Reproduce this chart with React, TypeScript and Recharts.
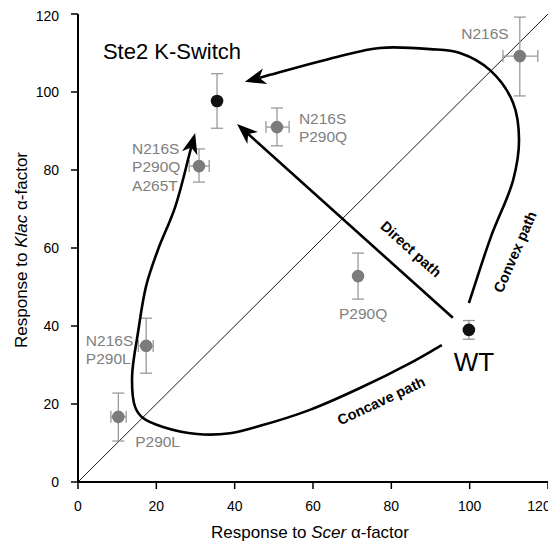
import React from 'react';
import { ScatterChart, Scatter, XAxis, YAxis, ErrorBar, ReferenceLine, Label } from 'recharts';

const FONT = '"Liberation Sans", Arial, Helvetica, sans-serif';

// ---------- data ----------
const axisTicks = [0, 20, 40, 60, 80, 100, 120];

const blackPoints = [
  { name: 'Ste2 K-Switch', x: 35.5, y: 97.7, ey: [7.0, 7.0] },
  { name: 'WT', x: 99.8, y: 39.0, ey: [2.4, 2.4] },
];

const grayPointsXY = [
  { name: 'N216S P290Q A265T', x: 30.9, y: 81.0, ex: [2.5, 2.6], ey: [4.1, 4.4] },
  { name: 'N216S P290Q', x: 50.8, y: 91.0, ex: [2.8, 3.1], ey: [4.8, 4.9] },
  { name: 'N216S', x: 112.8, y: 109.2, ex: [4.3, 4.6], ey: [10.2, 10.0] },
  { name: 'N216S P290L', x: 17.4, y: 34.9, ex: [2.0, 1.8], ey: [7.0, 7.1] },
  { name: 'P290L', x: 10.3, y: 16.7, ex: [1.9, 2.0], ey: [6.2, 6.1] },
];

const grayPointsY = [{ name: 'P290Q', x: 71.5, y: 52.8, ey: [5.9, 5.9] }];

const convexPath = [
  { x: 99.8, y: 45.9 },
  { x: 105.4, y: 62.8 },
  { x: 111.1, y: 77.4 },
  { x: 112.6, y: 87.7 },
  { x: 111.1, y: 97.2 },
  { x: 105.2, y: 105.6 },
  { x: 97.5, y: 110.0 },
  { x: 89.9, y: 111.0 },
  { x: 77.1, y: 111.3 },
  { x: 66.1, y: 109.0 },
  { x: 49.0, y: 104.4 },
  { x: 42.6, y: 102.6 },
];

const concavePath = [
  { x: 92.9, y: 35.1 },
  { x: 84.8, y: 30.5 },
  { x: 72.0, y: 24.1 },
  { x: 59.2, y: 18.5 },
  { x: 46.5, y: 14.4 },
  { x: 38.8, y: 12.5 },
  { x: 30.4, y: 12.3 },
  { x: 21.7, y: 14.1 },
  { x: 16.6, y: 16.4 },
  { x: 14.6, y: 19.2 },
  { x: 13.8, y: 26.9 },
  { x: 15.3, y: 38.2 },
  { x: 17.4, y: 50.3 },
  { x: 20.4, y: 59.5 },
  { x: 24.8, y: 70.5 },
  { x: 29.9, y: 89.5 },
];

const directPath = [
  { x: 95.7, y: 42.1 },
  { x: 40.6, y: 91.8 },
];

const pointLabels = [
  { lines: ['N216S'], x: 103.9, y: 115.1, align: 'middle' },
  { lines: ['N216S', 'P290Q'], x: 56.4, y: 93.3, align: 'start' },
  { lines: ['N216S', 'P290Q', 'A265T'], x: 13.8, y: 85.6, align: 'start' },
  { lines: ['N216S', 'P290L'], x: 2.0, y: 36.4, align: 'start' },
  { lines: ['P290L'], x: 14.6, y: 10.3, align: 'start' },
  { lines: ['P290Q'], x: 72.8, y: 43.1, align: 'middle' },
];

const titleLabels = [{ text: 'Ste2 K-Switch', x: 24.0, y: 110.5 }];
const wtLabels = [{ text: 'WT', x: 101.1, y: 30.8 }];

const pathLabels = [
  { text: 'Direct path', x: 85.0, y: 59.7, angle: 42 },
  { text: 'Convex path', x: 111.6, y: 59.0, angle: -66.5 },
  { text: 'Concave path', x: 77.4, y: 20.8, angle: -25 },
];

// ---------- styles ----------
const BLACK = '#111111';
const GRAY_PT = '#7b7b7b';
const GRAY_TXT = '#808080';
const GRAY_ERR = '#9a9a9a';

// ---------- renderers ----------
type P = { x: number; y: number };

// centripetal Catmull-Rom spline through the points, as cubic Beziers
function catmull(pts: P[]): string {
  if (pts.length < 2) return '';
  const alpha = 0.5;
  const eps = 1e-6;
  let d = `M${pts[0].x},${pts[0].y}`;
  for (let i = 0; i < pts.length - 1; i++) {
    const p0 = pts[i - 1] || pts[i];
    const p1 = pts[i];
    const p2 = pts[i + 1];
    const p3 = pts[i + 2] || p2;
    const l01 = Math.hypot(p1.x - p0.x, p1.y - p0.y);
    const l12 = Math.hypot(p2.x - p1.x, p2.y - p1.y);
    const l23 = Math.hypot(p3.x - p2.x, p3.y - p2.y);
    const l01a = Math.pow(l01, alpha);
    const l01_2a = Math.pow(l01, 2 * alpha);
    const l12a = Math.pow(l12, alpha);
    const l12_2a = Math.pow(l12, 2 * alpha);
    const l23a = Math.pow(l23, alpha);
    const l23_2a = Math.pow(l23, 2 * alpha);
    let c1x = p1.x;
    let c1y = p1.y;
    let c2x = p2.x;
    let c2y = p2.y;
    if (l01a > eps) {
      const a = 2 * l01_2a + 3 * l01a * l12a + l12_2a;
      const nn = 3 * l01a * (l01a + l12a);
      c1x = (p1.x * a - p0.x * l12_2a + p2.x * l01_2a) / nn;
      c1y = (p1.y * a - p0.y * l12_2a + p2.y * l01_2a) / nn;
    } else {
      c1x = p1.x + (p2.x - p1.x) / 3;
      c1y = p1.y + (p2.y - p1.y) / 3;
    }
    if (l23a > eps) {
      const b = 2 * l23_2a + 3 * l23a * l12a + l12_2a;
      const m = 3 * l23a * (l23a + l12a);
      c2x = (p2.x * b + p1.x * l23_2a - p3.x * l12_2a) / m;
      c2y = (p2.y * b + p1.y * l23_2a - p3.y * l12_2a) / m;
    } else {
      c2x = p2.x - (p2.x - p1.x) / 3;
      c2y = p2.y - (p2.y - p1.y) / 3;
    }
    d += ` C${c1x},${c1y} ${c2x},${c2y} ${p2.x},${p2.y}`;
  }
  return d;
}

function arrowLine(props: any) {
  const pts: P[] = (props.points || []).map((p: any) => ({ x: p.x, y: p.y }));
  if (pts.length < 2) return <g />;
  const n = pts.length;
  const tip = pts[n - 1];
  const prev = pts[n - 2];
  let dx = tip.x - prev.x;
  let dy = tip.y - prev.y;
  const L = Math.hypot(dx, dy) || 1;
  dx /= L;
  dy /= L;
  const headLen = 21;
  const halfW = 8;
  const notch = 6;
  const cut = { x: tip.x - dx * (headLen - notch), y: tip.y - dy * (headLen - notch) };
  const linePts = [...pts.slice(0, n - 1), cut];
  const px = -dy;
  const py = dx;
  const bx = tip.x - dx * headLen;
  const by = tip.y - dy * headLen;
  const nx = tip.x - dx * (headLen - notch);
  const ny = tip.y - dy * (headLen - notch);
  const head = `${tip.x},${tip.y} ${bx + px * halfW},${by + py * halfW} ${nx},${ny} ${bx - px * halfW},${by - py * halfW}`;
  return (
    <g>
      <path d={catmull(linePts)} fill="none" stroke="#000" strokeWidth={2.6} strokeLinejoin="round" />
      <polygon points={head} fill="#000" />
    </g>
  );
}

const noShape = () => <g />;

const blackDot = (p: any) => <circle cx={p.cx} cy={p.cy} r={6.3} fill={BLACK} />;
const grayDot = (p: any) => <circle cx={p.cx} cy={p.cy} r={6.3} fill={GRAY_PT} />;

const pointLabelShape = (p: any) => {
  const d = p.payload;
  return (
    <text x={p.cx} y={p.cy} textAnchor={d.align} fontSize={15.5} fill={GRAY_TXT} fontFamily={FONT}>
      {d.lines.map((t: string, i: number) => (
        <tspan key={i} x={p.cx} dy={i === 0 ? '0.36em' : 18.5}>
          {t}
        </tspan>
      ))}
    </text>
  );
};

const titleShape = (p: any) => (
  <text x={p.cx} y={p.cy} textAnchor="middle" dominantBaseline="central" fontSize={22} fill="#000" fontFamily={FONT}>
    {p.payload.text}
  </text>
);

const wtShape = (p: any) => (
  <text x={p.cx} y={p.cy} textAnchor="middle" dominantBaseline="central" fontSize={26} fill="#000" fontFamily={FONT}>
    {p.payload.text}
  </text>
);

const pathLabelShape = (p: any) => (
  <text
    x={p.cx}
    y={p.cy}
    textAnchor="middle"
    dominantBaseline="central"
    fontSize={14.5}
    fontWeight="bold"
    fill="#000"
    fontFamily={FONT}
    transform={`rotate(${p.payload.angle}, ${p.cx}, ${p.cy})`}
  >
    {p.payload.text}
  </text>
);

const YTitle = (props: any) => {
  const vb = props.viewBox || { x: 0, y: 6, width: 70, height: 468 };
  const cx = vb.x + 13;
  const cy = vb.y + vb.height / 2 + 2;
  return (
    <text
      x={cx}
      y={cy}
      transform={`rotate(-90, ${cx}, ${cy})`}
      textAnchor="middle"
      dominantBaseline="central"
      fontSize={17}
      fill="#000"
      fontFamily={FONT}
    >
      Response to <tspan fontStyle="italic">Klac</tspan> α-factor
    </text>
  );
};

const XTitle = (props: any) => {
  const vb = props.viewBox || { x: 70, y: 474, width: 470, height: 61 };
  const cx = vb.x + vb.width / 2 - 3;
  const cy = vb.y + 50;
  return (
    <text x={cx} y={cy} textAnchor="middle" dominantBaseline="central" fontSize={17} fill="#000" fontFamily={FONT}>
      Response to <tspan fontStyle="italic">Scer</tspan> α-factor
    </text>
  );
};

const XTick = (p: any) => {
  const v = p.payload.value;
  const shift = v === axisTicks[axisTicks.length - 1] ? -5 : 0;
  return (
    <text x={p.x + shift} y={p.y} dy="0.71em" textAnchor="middle" fontSize={14} fill="#000" fontFamily={FONT}>
      {v}
    </text>
  );
};

const tickStyle = { fill: '#000', fontSize: 14, fontFamily: FONT };

export default function App() {
  return (
    <ScatterChart width={548} height={535} margin={{ top: 6, right: 8, bottom: 0, left: 0 }}>
      <XAxis
        type="number"
        dataKey="x"
        domain={[0, 120]}
        ticks={axisTicks}
        allowDataOverflow
        height={61}
        axisLine={{ stroke: '#000', strokeWidth: 2 }}
        tickLine={{ stroke: '#000', strokeWidth: 1.5 }}
        tickSize={7}
        tickMargin={12}
        tick={XTick}
      >
        <Label content={XTitle} />
      </XAxis>
      <YAxis
        type="number"
        dataKey="y"
        domain={[0, 120]}
        ticks={axisTicks}
        allowDataOverflow
        width={70}
        axisLine={{ stroke: '#000', strokeWidth: 2 }}
        tickLine={{ stroke: '#000', strokeWidth: 1.5 }}
        tickSize={7}
        tickMargin={12}
        tick={tickStyle}
      >
        <Label content={YTitle} />
      </YAxis>

      <ReferenceLine
        segment={[
          { x: 0, y: 0 },
          { x: 120, y: 120 },
        ]}
        stroke="#000"
        strokeWidth={0.9}
        ifOverflow="visible"
      />

      <Scatter data={convexPath} shape={noShape} line={arrowLine} lineType="joint" isAnimationActive={false} legendType="none" />
      <Scatter data={concavePath} shape={noShape} line={arrowLine} lineType="joint" isAnimationActive={false} legendType="none" />
      <Scatter data={directPath} shape={noShape} line={arrowLine} lineType="joint" isAnimationActive={false} legendType="none" />

      <Scatter data={grayPointsXY} shape={grayDot} isAnimationActive={false}>
        <ErrorBar dataKey="ex" direction="x" width={6} stroke={GRAY_ERR} strokeWidth={1.3} />
        <ErrorBar dataKey="ey" direction="y" width={6} stroke={GRAY_ERR} strokeWidth={1.3} />
      </Scatter>
      <Scatter data={grayPointsY} shape={grayDot} isAnimationActive={false}>
        <ErrorBar dataKey="ey" direction="y" width={6} stroke={GRAY_ERR} strokeWidth={1.3} />
      </Scatter>
      <Scatter data={blackPoints} shape={blackDot} isAnimationActive={false}>
        <ErrorBar dataKey="ey" direction="y" width={6} stroke={GRAY_ERR} strokeWidth={1.3} />
      </Scatter>

      <Scatter data={pointLabels} shape={pointLabelShape} isAnimationActive={false} />
      <Scatter data={titleLabels} shape={titleShape} isAnimationActive={false} />
      <Scatter data={wtLabels} shape={wtShape} isAnimationActive={false} />
      <Scatter data={pathLabels} shape={pathLabelShape} isAnimationActive={false} />
    </ScatterChart>
  );
}
